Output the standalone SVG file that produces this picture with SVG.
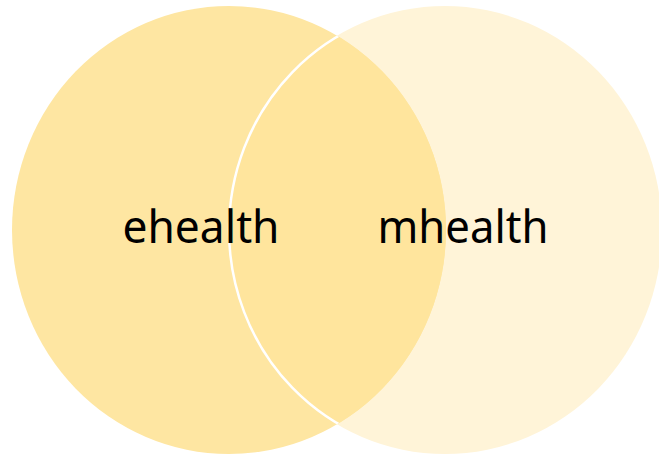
<svg xmlns="http://www.w3.org/2000/svg" width="659" height="456" viewBox="0 0 659 456">
<style>
.lbl{font-family:"Noto Sans","Open Sans",sans-serif;font-size:45px;fill:#000;text-anchor:middle}
</style>
<defs>
<clipPath id="clipL"><ellipse cx="229" cy="230" rx="217" ry="224"/></clipPath>
</defs>
<rect width="659" height="456" fill="#fff"/>
<g id="mhealth">
<ellipse cx="445" cy="230" rx="217" ry="224" fill="#FFF4D8"/>
</g>
<g id="ehealth">
<ellipse cx="229" cy="230" rx="217" ry="224" fill="#FEE6A2"/>
</g>
<g id="overlap" clip-path="url(#clipL)">
<ellipse cx="445" cy="230" rx="217" ry="224" fill="#FFE59D"/>
<ellipse cx="445" cy="230" rx="216" ry="223" fill="none" stroke="#fff" stroke-width="2.5"/>
</g>
<g id="labels">
<text class="lbl" x="201" y="243" textLength="157" lengthAdjust="spacingAndGlyphs">ehealth</text>
<text class="lbl" x="463" y="243" textLength="171" lengthAdjust="spacingAndGlyphs">mhealth</text>
</g>
</svg>
